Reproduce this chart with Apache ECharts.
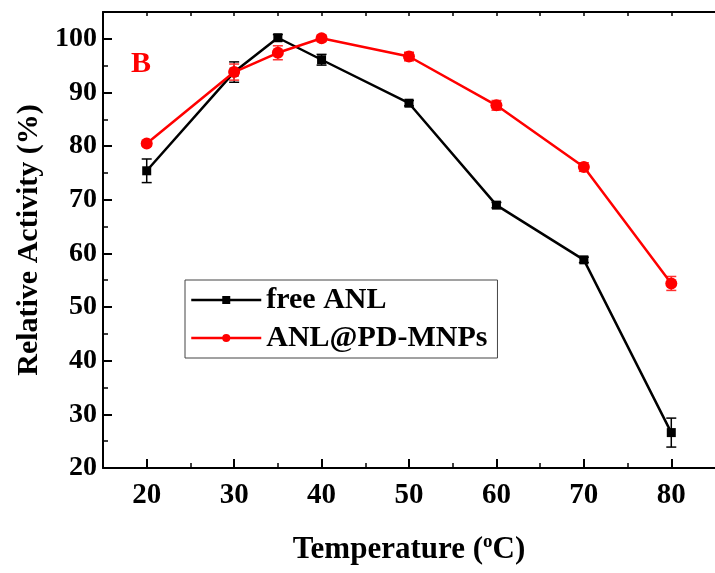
<!DOCTYPE html>
<html>
<head>
<meta charset="utf-8">
<script src="https://cdn.jsdelivr.net/npm/echarts@6/dist/echarts.min.js"></script>
<style>html,body{margin:0;padding:0;background:#fff}#c{width:715px;height:573px}</style>
</head>
<body>
<div id="c"></div>
<script>
const temps = [20, 30, 35, 40, 50, 60, 70, 80];
const freeANL = [75.4, 93.8, 100.2, 96.1, 88.0, 69.0, 58.8, 26.6];
const freeErr = [2.2, 1.9, 0.6, 1.0, 0.5, 0.5, 0.5, 2.7];
const pdANL = [80.5, 93.8, 97.4, 100.1, 96.7, 87.6, 76.1, 54.4];
const pdErr = [0.5, 1.5, 1.3, 0.6, 0.8, 0.9, 0.8, 1.3];
const xTicks = [20, 30, 40, 50, 60, 70, 80];
const xMinor = [25, 35, 45, 55, 65, 75];
const yTicks = [20, 30, 40, 50, 60, 70, 80, 90, 100];
const yMinor = [25, 35, 45, 55, 65, 75, 85, 95];

const FONT = '"Liberation Serif", "Times New Roman", serif';
const chart = echarts.init(document.getElementById('c'));
const gridRect = {left: 103, right: 0, top: 12, bottom: 105};

function errSeries(name, vals, errs, color) {
  return {
    name: name, type: 'custom', xAxisIndex: 0, yAxisIndex: 0, silent: true, z: 3,
    data: temps.map((t, i) => [t, vals[i], errs[i]]),
    encode: {x: 0, y: 1},
    renderItem: function (params, api) {
      const x = api.value(0), y = api.value(1), e = api.value(2);
      const p1 = api.coord([x, y + e]);
      const p2 = api.coord([x, y - e]);
      const hw = 5;
      const st = {stroke: color, lineWidth: 1.5};
      return {type: 'group', children: [
        {type: 'line', shape: {x1: p1[0], y1: p1[1], x2: p2[0], y2: p2[1]}, style: st},
        {type: 'line', shape: {x1: p1[0] - hw, y1: p1[1], x2: p1[0] + hw, y2: p1[1]}, style: st},
        {type: 'line', shape: {x1: p2[0] - hw, y1: p2[1], x2: p2[0] + hw, y2: p2[1]}, style: st}
      ]};
    }
  };
}

const option = {
  animation: false,
  backgroundColor: '#fff',
  title: {text: 'B', left: 126, top: 44, textStyle: {color: '#ff0000', fontFamily: FONT, fontWeight: 'bold', fontSize: 30}},
  grid: [Object.assign({}, gridRect), Object.assign({}, gridRect)],
  legend: {
    data: [
      {name: 'free ANL', lineStyle: {width: 2.5, color: '#000'}},
      {name: 'ANL@PD-MNPs', lineStyle: {width: 2.5, color: '#ff0000'}}
    ],
    orient: 'vertical', left: 185, top: 280,
    borderColor: '#444', borderWidth: 1, borderRadius: 0,
    padding: [5, 10, 5, 5], itemGap: 8,
    itemWidth: 70, itemHeight: 10,
    textStyle: {fontFamily: FONT, fontWeight: 'bold', fontSize: 30, color: '#000'}
  },
  xAxis: [
    {type: 'value', gridIndex: 0, position: 'bottom', min: 15, max: 85,
     axisLine: {lineStyle: {color: '#000', width: 2}},
     axisTick: {inside: true, length: 9, customValues: xTicks, lineStyle: {color: '#000', width: 2}},
     axisLabel: {customValues: xTicks, fontFamily: FONT, fontWeight: 'bold', fontSize: 29, color: '#000', margin: 13},
     splitLine: {show: false},
     name: 'Temperature ({sup|o}C)', nameLocation: 'middle', nameGap: 65,
     nameTextStyle: {fontFamily: FONT, fontWeight: 'bold', fontSize: 31, color: '#000',
       rich: {sup: {fontFamily: FONT, fontWeight: 'bold', fontSize: 19, color: '#000', padding: [0, 0, 14, 0]}}}
    },
    {type: 'value', gridIndex: 0, position: 'top', min: 15, max: 85,
     axisLine: {lineStyle: {color: '#000', width: 2}},
     axisTick: {inside: true, length: 4, customValues: xTicks.concat(xMinor), lineStyle: {color: '#000', width: 1.5}},
     axisLabel: {show: false}, splitLine: {show: false}
    },
    {type: 'value', gridIndex: 1, position: 'bottom', min: 15, max: 85,
     axisLine: {show: false},
     axisTick: {inside: true, length: 5, customValues: xMinor, lineStyle: {color: '#000', width: 1.5}},
     axisLabel: {show: false}, splitLine: {show: false}
    }
  ],
  yAxis: [
    {type: 'value', gridIndex: 0, position: 'left', min: 20, max: 105,
     axisLine: {lineStyle: {color: '#000', width: 2}},
     axisTick: {inside: true, length: 9, customValues: yTicks, lineStyle: {color: '#000', width: 2}},
     axisLabel: {customValues: yTicks, fontFamily: FONT, fontWeight: 'bold', fontSize: 28, color: '#000', margin: 6},
     splitLine: {show: false},
     name: 'Relative Activity (%)', nameLocation: 'middle', nameGap: 56,
     nameTextStyle: {fontFamily: FONT, fontWeight: 'bold', fontSize: 30, color: '#000'}
    },
    {type: 'value', gridIndex: 1, position: 'left', min: 20, max: 105,
     axisLine: {show: false},
     axisTick: {inside: true, length: 5, customValues: yMinor, lineStyle: {color: '#000', width: 1.5}},
     axisLabel: {show: false}, splitLine: {show: false}
    }
  ],
  series: [
    errSeries('freeErr', freeANL, freeErr, '#000'),
    errSeries('pdErr', pdANL, pdErr, '#ff3030'),
    {name: 'free ANL', type: 'line', xAxisIndex: 0, yAxisIndex: 0, z: 4,
     data: temps.map((t, i) => [t, freeANL[i]]),
     symbol: 'rect', symbolSize: 9,
     lineStyle: {color: '#000', width: 2.5}, itemStyle: {color: '#000'}},
    {name: 'ANL@PD-MNPs', type: 'line', xAxisIndex: 0, yAxisIndex: 0, z: 5,
     data: temps.map((t, i) => [t, pdANL[i]]),
     symbol: 'circle', symbolSize: 12,
     lineStyle: {color: '#ff0000', width: 2.5}, itemStyle: {color: '#ff0000'}}
  ]
};
chart.setOption(option);
</script>
</body>
</html>
